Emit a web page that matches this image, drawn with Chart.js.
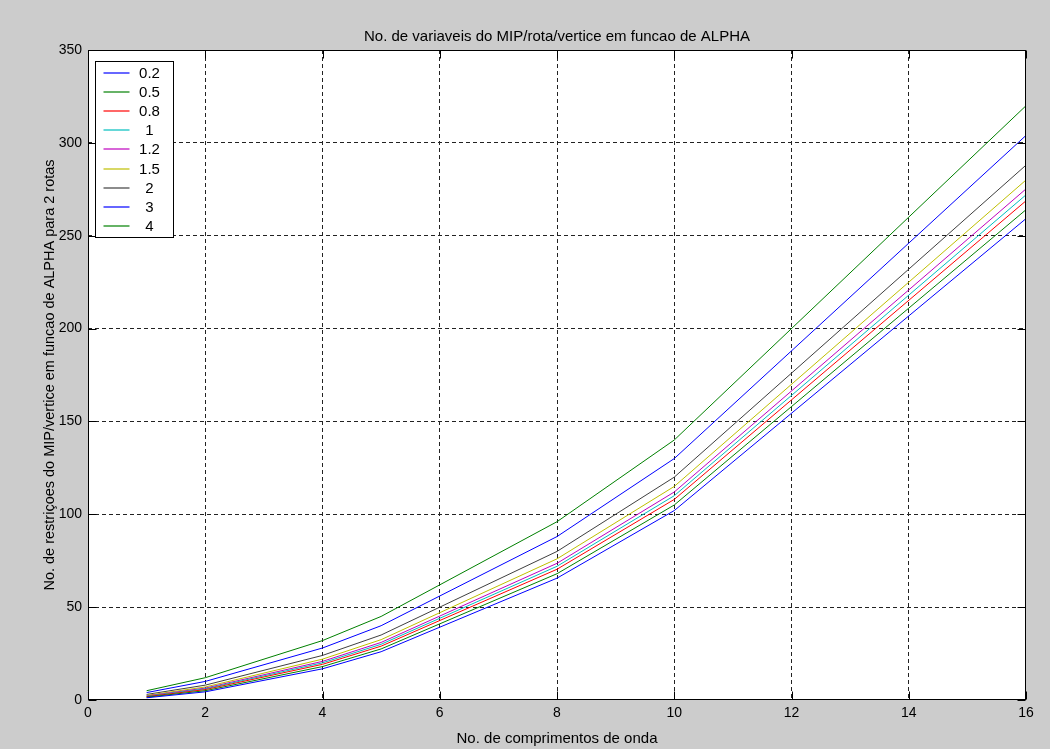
<!DOCTYPE html>
<html><head><meta charset="utf-8">
<script src="https://cdn.jsdelivr.net/npm/chart.js@4.4.1/dist/chart.umd.min.js"></script>
<style>html,body{margin:0;padding:0;background:#cccccc;}canvas{display:block}</style>
</head><body>
<canvas id="c" width="1050" height="749"></canvas>
<script>
// X values (number of wavelengths)
const wavelengths = [1, 2, 4, 5, 8, 10, 16];
// Series labels (ALPHA)
const alphaLabels = ['0.2', '0.5', '0.8', '1', '1.2', '1.5', '2', '3', '4'];
// Series values
const alpha02 = [1.2, 4.4, 16.8, 26.0, 65.6, 102, 259.2];
const alpha05 = [1.5, 5.0, 18.0, 27.5, 68.0, 105, 264.0];
const alpha08 = [1.8, 5.6, 19.2, 29.0, 70.4, 108, 268.8];
const alpha10 = [2.0, 6.0, 20.0, 30.0, 72.0, 110, 272.0];
const alpha12 = [2.2, 6.4, 20.8, 31.0, 73.6, 112, 275.2];
const alpha15 = [2.5, 7.0, 22.0, 32.5, 76.0, 115, 280.0];
const alpha20 = [3.0, 8.0, 24.0, 35.0, 80.0, 120, 288.0];
const alpha30 = [4.0, 10.0, 28.0, 40.0, 88.0, 130, 304.0];
const alpha40 = [5.0, 12.0, 32.0, 45.0, 96.0, 140, 320.0];
const seriesValues = [alpha02, alpha05, alpha08, alpha10, alpha12, alpha15, alpha20, alpha30, alpha40];
// Tick labels
const xTicks = [0, 2, 4, 6, 8, 10, 12, 14, 16];
const yTicks = [0, 50, 100, 150, 200, 250, 300, 350];

const titleText = 'No. de variaveis do MIP/rota/vertice em funcao de ALPHA';
const xTitle = 'No. de comprimentos de onda';
const yTitle = 'No. de restriçoes do MIP/vertice em funcao de ALPHA para 2 rotas';

const colors = ['#0000ff', '#008000', '#ff0000', '#00bfbf', '#bf00bf', '#bfbf00', '#404040', '#0000ff', '#008000'];
const FONT = "'Liberation Sans', Arial, Helvetica, sans-serif";

const datasets = seriesValues.map((vals, i) => ({
  label: alphaLabels[i],
  data: vals.map((v, j) => ({x: wavelengths[j], y: v})),
  borderColor: colors[i],
  backgroundColor: colors[i],
  borderWidth: 1,
  pointRadius: 0,
  tension: 0,
  fill: false
}));

const framePlugin = {
  id: 'frame',
  beforeDraw(chart) {
    const ctx = chart.ctx, a = chart.chartArea;
    ctx.save();
    ctx.fillStyle = '#cccccc';
    ctx.fillRect(0, 0, chart.width, chart.height);
    ctx.fillStyle = '#ffffff';
    ctx.fillRect(a.left, a.top, a.right - a.left, a.bottom - a.top);
    ctx.restore();
  },
  afterDraw(chart) {
    const ctx = chart.ctx, a = chart.chartArea;
    const xs = chart.scales.x, ys = chart.scales.y;
    ctx.save();
    // title
    ctx.fillStyle = '#000';
    ctx.font = '15px ' + FONT;
    ctx.textAlign = 'center';
    ctx.textBaseline = 'middle';
    ctx.fillText(titleText, (a.left + a.right) / 2, 37);
    // border
    ctx.strokeStyle = '#000';
    ctx.lineWidth = 1;
    const L = Math.round(a.left) + 0.5, R = Math.round(a.right) - 0.5;
    const T = Math.round(a.top) + 0.5, B = Math.round(a.bottom) - 0.5;
    ctx.strokeRect(L, T, R - L, B - T);
    // inward ticks
    const tl = 8;
    ctx.beginPath();
    xTicks.forEach(v => {
      const px = Math.round(xs.getPixelForValue(v)) + 0.5;
      ctx.moveTo(px, B); ctx.lineTo(px, B - tl);
      ctx.moveTo(px, T); ctx.lineTo(px, T + tl);
    });
    yTicks.forEach(v => {
      const py = Math.round(ys.getPixelForValue(v)) + 0.5;
      ctx.moveTo(L, py); ctx.lineTo(L + tl, py);
      ctx.moveTo(R, py); ctx.lineTo(R - tl, py);
    });
    ctx.stroke();
    // legend
    const bx = Math.round(a.left) + 7.5, by = Math.round(a.top) + 11.5;
    const bw = 78, bh = 176;
    ctx.fillStyle = '#ffffff';
    ctx.fillRect(bx, by, bw, bh);
    ctx.strokeStyle = '#000';
    ctx.strokeRect(bx, by, bw, bh);
    ctx.font = '15px ' + FONT;
    chart.data.datasets.forEach((ds, i) => {
      const yy = Math.round(by + 11.5 + i * 19.1);
      ctx.strokeStyle = ds.borderColor;
      ctx.lineWidth = 1.2;
      ctx.beginPath();
      ctx.moveTo(bx + 8, yy); ctx.lineTo(bx + 34, yy);
      ctx.stroke();
      ctx.fillStyle = '#000';
      ctx.textAlign = 'center';
      ctx.fillText(ds.label, bx + 54, yy + 1);
    });
    ctx.restore();
  }
};

new Chart(document.getElementById('c'), {
  type: 'line',
  data: {datasets},
  plugins: [framePlugin],
  options: {
    responsive: false,
    animation: false,
    devicePixelRatio: 1,
    layout: {padding: {top: 50, right: 24, left: 0, bottom: 0}},
    plugins: {legend: {display: false}, tooltip: {enabled: false}, title: {display: false}},
    scales: {
      x: {
        type: 'linear', min: 0, max: 16,
        afterBuildTicks: s => { s.ticks = xTicks.map(v => ({value: v})); },
        afterFit: s => { s.height = 49; },
        ticks: {color: '#000', font: {family: FONT, size: 14}, padding: 5, maxRotation: 0, autoSkip: false},
        grid: {drawTicks: false, lineWidth: 1,
          color: c => (c.tick && (c.tick.value === 0 || c.tick.value === 16)) ? 'rgba(0,0,0,0)' : '#222'},
        border: {display: false, dash: [4, 3]},
        title: {display: true, text: xTitle, color: '#000', font: {family: FONT, size: 15}, padding: {top: 0, bottom: 1}}
      },
      y: {
        type: 'linear', min: 0, max: 350,
        afterBuildTicks: s => { s.ticks = yTicks.map(v => ({value: v})); },
        afterFit: s => { s.width = 88; },
        ticks: {color: '#000', font: {family: FONT, size: 14}, padding: 6, autoSkip: false},
        grid: {drawTicks: false, lineWidth: 1,
          color: c => (c.tick && (c.tick.value === 0 || c.tick.value === 350)) ? 'rgba(0,0,0,0)' : '#222'},
        border: {display: false, dash: [4, 3]},
        title: {display: true, text: yTitle, color: '#000', font: {family: FONT, size: 14.5}, padding: {top: 41, bottom: 0}}
      }
    }
  }
});
</script>
</body></html>
